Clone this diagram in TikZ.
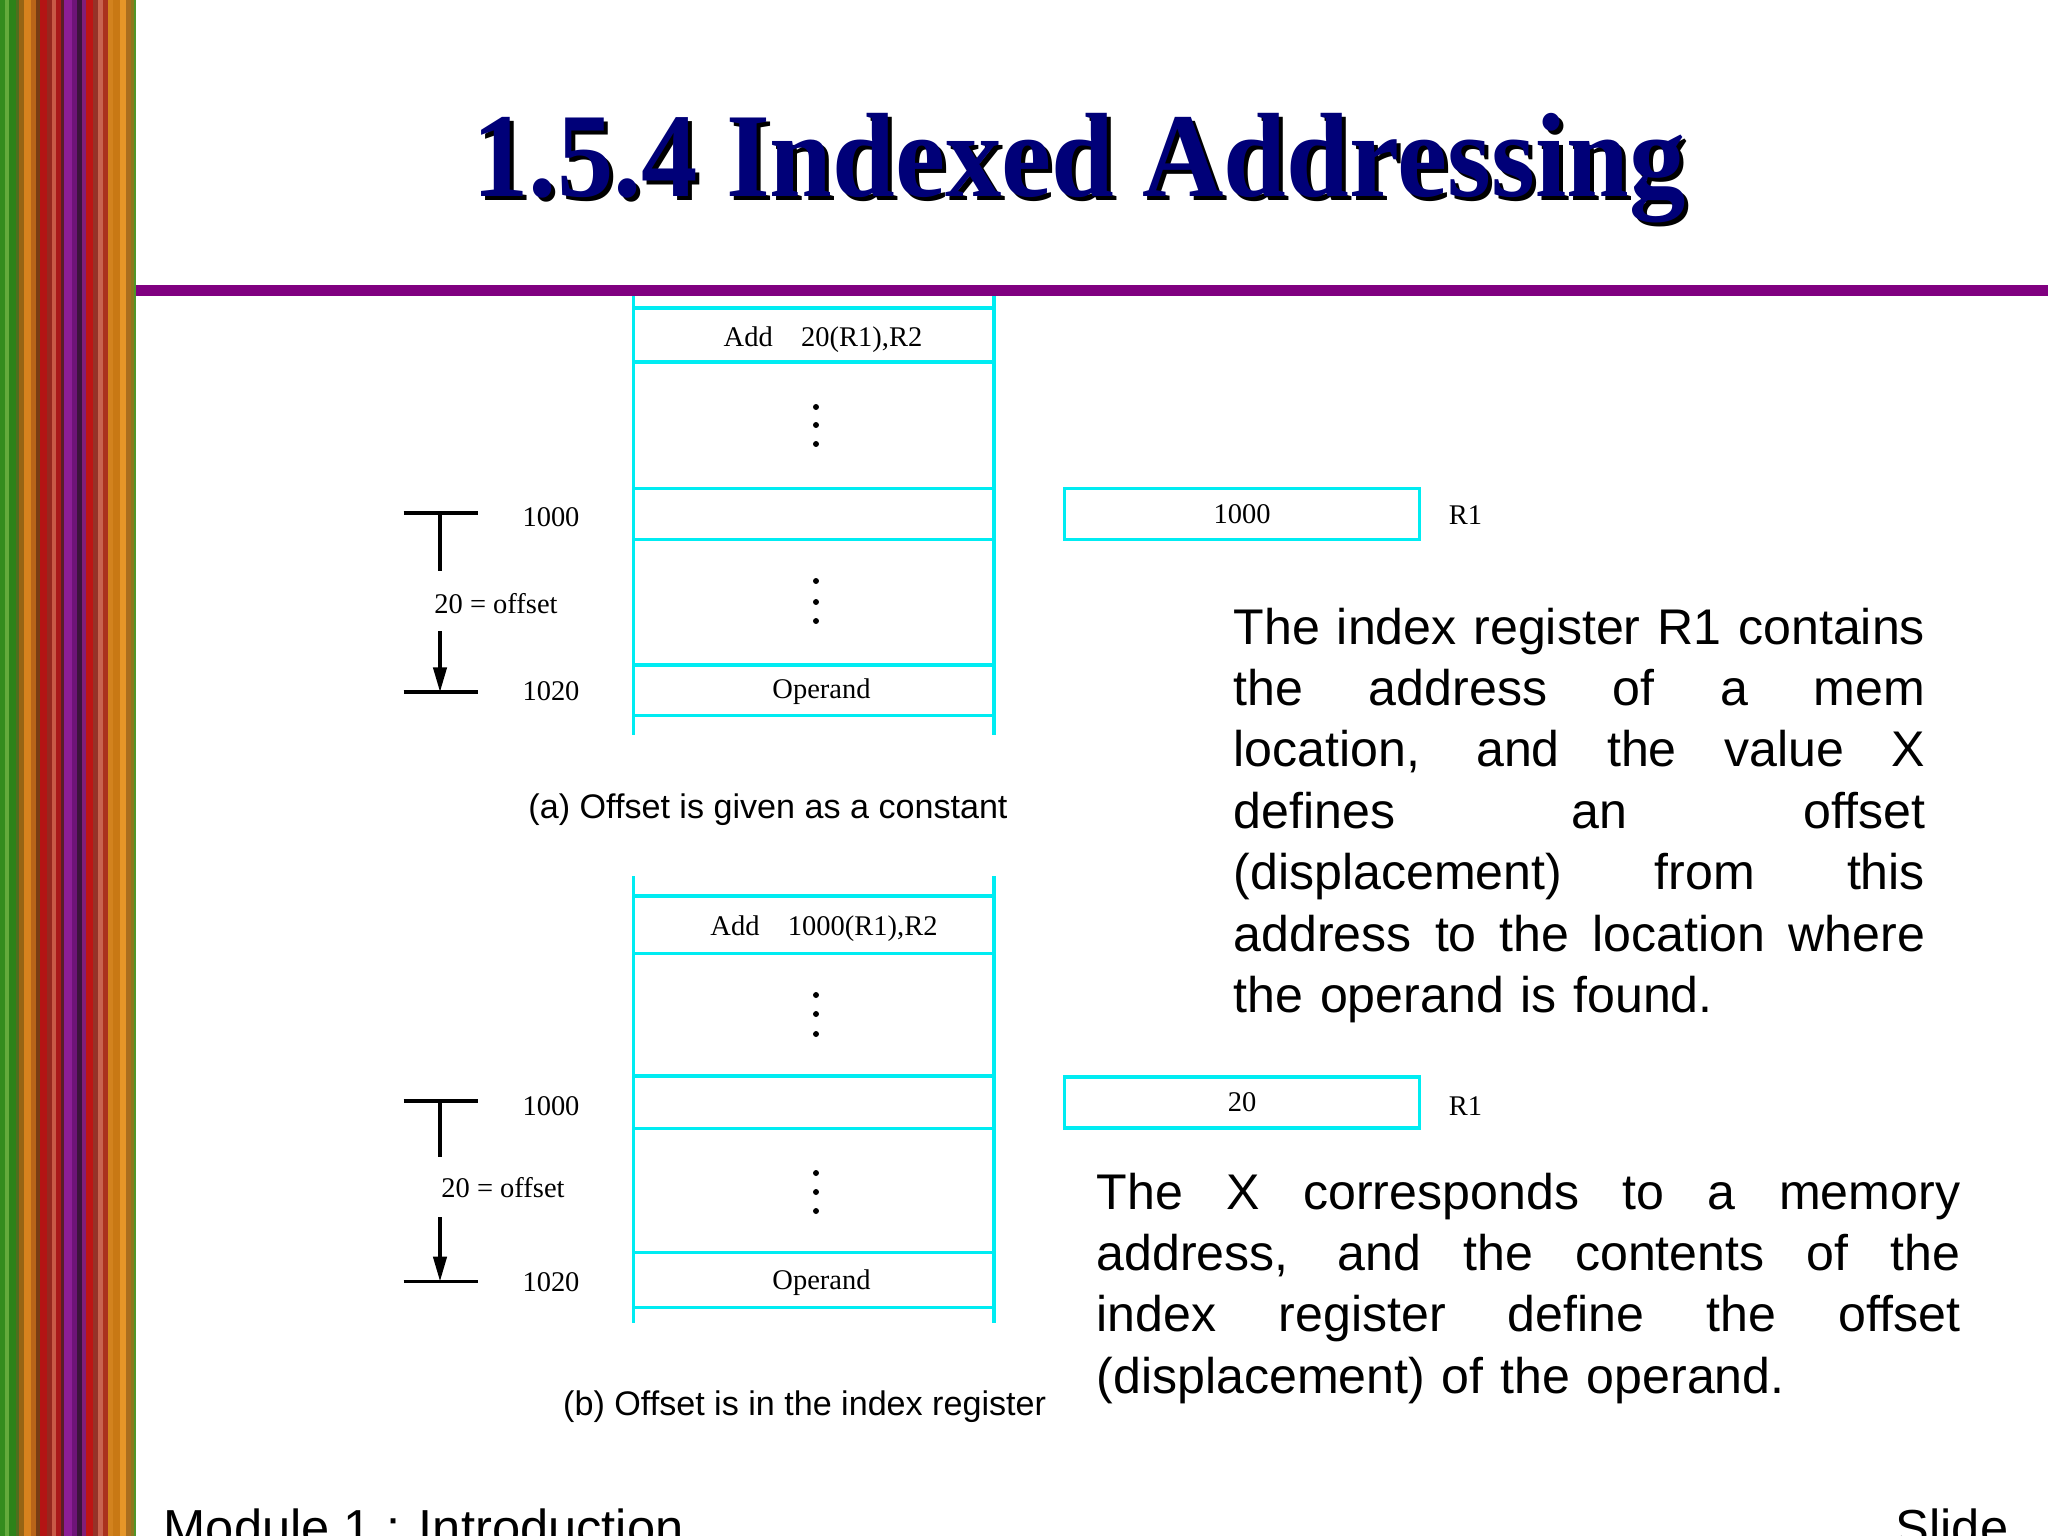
\documentclass[tikz,border=0pt]{standalone}
\usepackage{fontspec}
\setmainfont{Liberation Serif}
\newfontfamily\arialfont{Liberation Sans}
\usetikzlibrary{arrows.meta}
\definecolor{memcyan}{RGB}{0,236,242}
\definecolor{titlenavy}{RGB}{0,0,120}
\definecolor{rulepurple}{RGB}{128,0,128}
\newcommand{\fullline}[2]{\leavevmode\hbox to #1{\spaceskip=0.278em plus 1fil\relax #2}}

\begin{document}
\begin{tikzpicture}[x=0.01cm, y=-0.01cm]
        \tikzstyle{memline} = [draw=memcyan, line width=1pt]
        \tikzstyle{regbox} = [draw=memcyan, line width=1pt, minimum width=3.55cm, minimum height=0.51cm, inner sep=0pt, font=\fontsize{8.1pt}{9.7pt}\selectfont]
        \tikzstyle{small} = [inner sep=0pt, font=\fontsize{8.1pt}{9.7pt}\selectfont]
        \tikzstyle{caption} = [inner sep=0pt, font=\arialfont\fontsize{9.7pt}{11.6pt}\selectfont]
        \tikzstyle{para} = [inner sep=0pt, anchor=base west, align=left, font=\arialfont\fontsize{14.25pt}{17.47pt}\selectfont]
        \tikzstyle{footer} = [inner sep=0pt, font=\arialfont\fontsize{14.4pt}{17.4pt}\selectfont]
        \tikzstyle{bar} = [line width=0.9pt]
        \tikzstyle{titletext} = [inner sep=0pt, anchor=base, xscale=0.94, font=\bfseries\fontsize{34.1pt}{40pt}\selectfont]
        \clip (0,0) rectangle (2048,1536);
        % side stripes
        \foreach \xa/\xb/\cola/\colb/\colc in {0/5/52/140/30, 5/9/100/170/60, 9/16/45/130/25, 16/19/80/110/30,
                19/24/150/100/20, 24/31/215/130/30, 31/36/185/100/25, 36/40/120/60/20, 40/47/180/20/20,
                47/52/150/40/30, 52/56/200/90/70, 56/61/170/25/25, 61/64/90/30/40, 64/72/140/30/150,
                72/77/110/20/120, 77/82/60/20/60, 82/86/130/30/120, 86/93/190/20/20, 93/98/150/50/40,
                98/103/200/100/80, 103/108/170/50/30, 108/113/210/130/30, 113/120/200/120/20,
                120/126/230/150/40, 126/131/170/110/30, 131/134/140/120/30, 134/136/80/150/40}
                {\definecolor{stripe}{RGB}{\cola,\colb,\colc}
                 \fill[stripe] (\xa,0) rectangle (\xb,1536);}
        \fill[rulepurple] (136,284.5) rectangle (2048,295.5);
        \node[titletext, text=black] (titleshadow) at (1083,200) {1.5.4 Indexed Addressing};
        \node[titletext, text=titlenavy] (title) at (1079,196) {1.5.4 Indexed Addressing};

        % (a) offset as a constant
        \foreach \x in {633.5,994} \draw[memline] (\x,296) -- (\x,735);
        \foreach \y in {308.2,361.8,488.5,539.4,664.8,715.7} \draw[memline] (633.5,\y) -- (994,\y);
        \foreach \y in {407,425,444,581,602,621} \fill (816,\y) circle (0.85pt);
        \node[small] (ainstr) at (823,340) {Add\hspace{1em}20(R1),R2};
        \node[small] (aop) at (821.5,692) {Operand};
        \node[small] (a1000) at (551,517) {1000};
        \node[small] (a1020) at (551,691) {1020};
        \node[small] (aoff) at (496,604) {20 = offset};
        \node[regbox] (areg) at (1242,514) {\raisebox{-2pt}{1000}};
        \node[small] (aR1) at (1465.5,515) {R1};
        \coordinate (atl) at (403.6,513);
        \coordinate (atr) at (478,513);
        \coordinate (abl) at (403.6,692);
        \coordinate (abr) at (478,692);
        \coordinate (atop) at (440,513);
        \coordinate (amid) at (440,571);
        \coordinate (alow) at (440,631);
        \coordinate (abot) at (440,692);
        \draw[bar] (atl) -- (atr);
        \draw[bar] (abl) -- (abr);
        \draw[bar] (atop) -- (amid);
        \draw[bar, -{Triangle[length=7pt,width=3.8pt]}] (alow) -- (abot);
        \node[caption] (acap) at (768,810) {(a) Offset is given as a constant};
        \node[para, text width=6.91cm] (atext) at (1233,644) {\fullline{6.91cm}{The index register R1 contains}\\
                \fullline{6.91cm}{the address of a mem}\\ \fullline{6.91cm}{location, and the value X}\\
                \fullline{6.91cm}{defines an offset}\\ \fullline{6.91cm}{(displacement) from this}\\
                \fullline{6.91cm}{address to the location where}\\ the operand is found.};

        % (b) offset in the index register
        \foreach \x in {633.5,994} \draw[memline] (\x,876.4) -- (\x,1323);
        \foreach \y in {896,953.5,1076.2,1128.5,1252.5,1307.4} \draw[memline] (633.5,\y) -- (994,\y);
        \foreach \y in {995,1014,1034,1173,1192,1211} \fill (816,\y) circle (0.85pt);
        \node[small] (binstr) at (824,929) {Add\hspace{1em}1000(R1),R2};
        \node[small] (bop) at (821.5,1283) {Operand};
        \node[small] (b1000) at (551,1106) {1000};
        \node[small] (b1020) at (551,1282) {1020};
        \node[small] (boff) at (503,1188) {20 = offset};
        \node[regbox] (breg) at (1242,1102.4) {\raisebox{-2pt}{20}};
        \node[small] (bR1) at (1465.5,1106) {R1};
        \coordinate (btl) at (403.6,1101);
        \coordinate (btr) at (478,1101);
        \coordinate (bbl) at (403.6,1281.3);
        \coordinate (bbr) at (478,1281.3);
        \coordinate (btop) at (440,1101);
        \coordinate (bmid) at (440,1157);
        \coordinate (blow) at (440,1217);
        \coordinate (bbot) at (440,1281.3);
        \draw[bar] (btl) -- (btr);
        \draw[bar] (bbl) -- (bbr);
        \draw[bar] (btop) -- (bmid);
        \draw[bar, -{Triangle[length=7pt,width=3.8pt]}] (blow) -- (bbot);
        \node[caption] (bcap) at (804.6,1407) {(b) Offset is in the index register};
        \node[para, text width=8.63cm] (btext) at (1096,1209) {\fullline{8.63cm}{The X corresponds to a memory}\\
                \fullline{8.63cm}{address, and the contents of the}\\ \fullline{8.63cm}{index register define the offset}\\
                (displacement) of the operand.};

        % footer
        \node[footer, anchor=base west] (module) at (163,1545) {Module 1 : Introduction};
        \node[footer, anchor=base east] (slide) at (2009,1545) {Slide};
\end{tikzpicture}
\end{document}
